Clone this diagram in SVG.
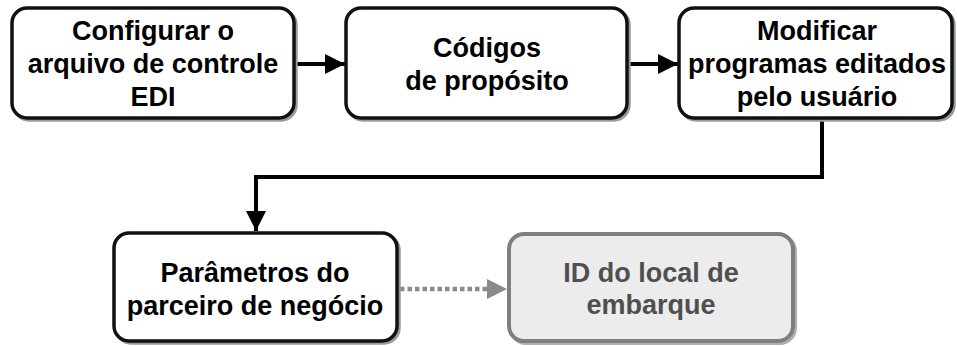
<svg xmlns="http://www.w3.org/2000/svg" width="957" height="346" viewBox="0 0 957 346">
<style>
.box{fill:#ffffff;stroke:#111111;stroke-width:3.5}
.shadow{fill:none;stroke:#9a9a9a;stroke-width:3.5}
.t{font-family:"Liberation Sans",Arial,sans-serif;font-weight:bold;font-size:27px;fill:#000000;text-anchor:middle}
.tg{fill:#4f4f4f}
.conn{fill:none;stroke:#000000;stroke-width:4}
</style>
<defs>
<marker id="ah" markerWidth="20" markerHeight="20" refX="20" refY="10" orient="auto" markerUnits="userSpaceOnUse">
<path d="M0,0 L20,10 L0,20 Z" fill="#000000"/>
</marker>
<marker id="ahg" markerWidth="20" markerHeight="20" refX="20" refY="10" orient="auto" markerUnits="userSpaceOnUse">
<path d="M0,0 L20,10 L0,20 Z" fill="#8a8a8a"/>
</marker>
</defs>
<g id="connectors">
<line class="conn" x1="295" y1="64" x2="345" y2="64" marker-end="url(#ah)"/>
<line class="conn" x1="628" y1="64" x2="678" y2="64" marker-end="url(#ah)"/>
<path class="conn" d="M822,120 L822,177 L256,177 L256,231" marker-end="url(#ah)"/>
<line x1="400" y1="289" x2="490" y2="289" stroke="#8a8a8a" stroke-width="4.5" stroke-dasharray="4.5,3"/>
<line x1="487" y1="289" x2="507" y2="289" stroke="#8a8a8a" stroke-width="0" marker-end="url(#ahg)"/>
</g>
<g id="node1">
<rect class="shadow" x="14" y="10" width="282" height="110" rx="15"/>
<rect class="box" x="12" y="8" width="282" height="110" rx="15"/>
<text class="t" x="153" y="40">Configurar o</text>
<text class="t" x="153" y="73">arquivo de controle</text>
<text class="t" x="153" y="106">EDI</text>
</g>
<g id="node2">
<rect class="shadow" x="348" y="10" width="281" height="110" rx="15"/>
<rect class="box" x="346" y="8" width="281" height="110" rx="15"/>
<text class="t" x="487" y="57">Códigos</text>
<text class="t" x="487" y="90">de propósito</text>
</g>
<g id="node3">
<rect class="shadow" x="681" y="10" width="273" height="110" rx="15"/>
<rect class="box" x="679" y="8" width="273" height="110" rx="15"/>
<text class="t" x="817" y="40">Modificar</text>
<text class="t" x="817" y="73">programas editados</text>
<text class="t" x="817" y="106">pelo usuário</text>
</g>
<g id="node4">
<rect class="shadow" x="116" y="235" width="283" height="108" rx="15" stroke-width="4.5"/>
<rect class="box" x="114" y="233" width="283" height="108" rx="15" stroke-width="4.5"/>
<text class="t" x="255" y="282">Parâmetros do</text>
<text class="t" x="255" y="315">parceiro de negócio</text>
</g>
<g id="node5">
<rect x="511" y="236" width="284" height="107" rx="15" fill="none" stroke="#b0b0b0" stroke-width="4"/>
<rect x="509" y="234" width="284" height="107" rx="15" fill="#ececec" stroke="#7f7f7f" stroke-width="4"/>
<text class="t tg" x="651" y="282">ID do local de</text>
<text class="t tg" x="651" y="314">embarque</text>
</g>
</svg>
